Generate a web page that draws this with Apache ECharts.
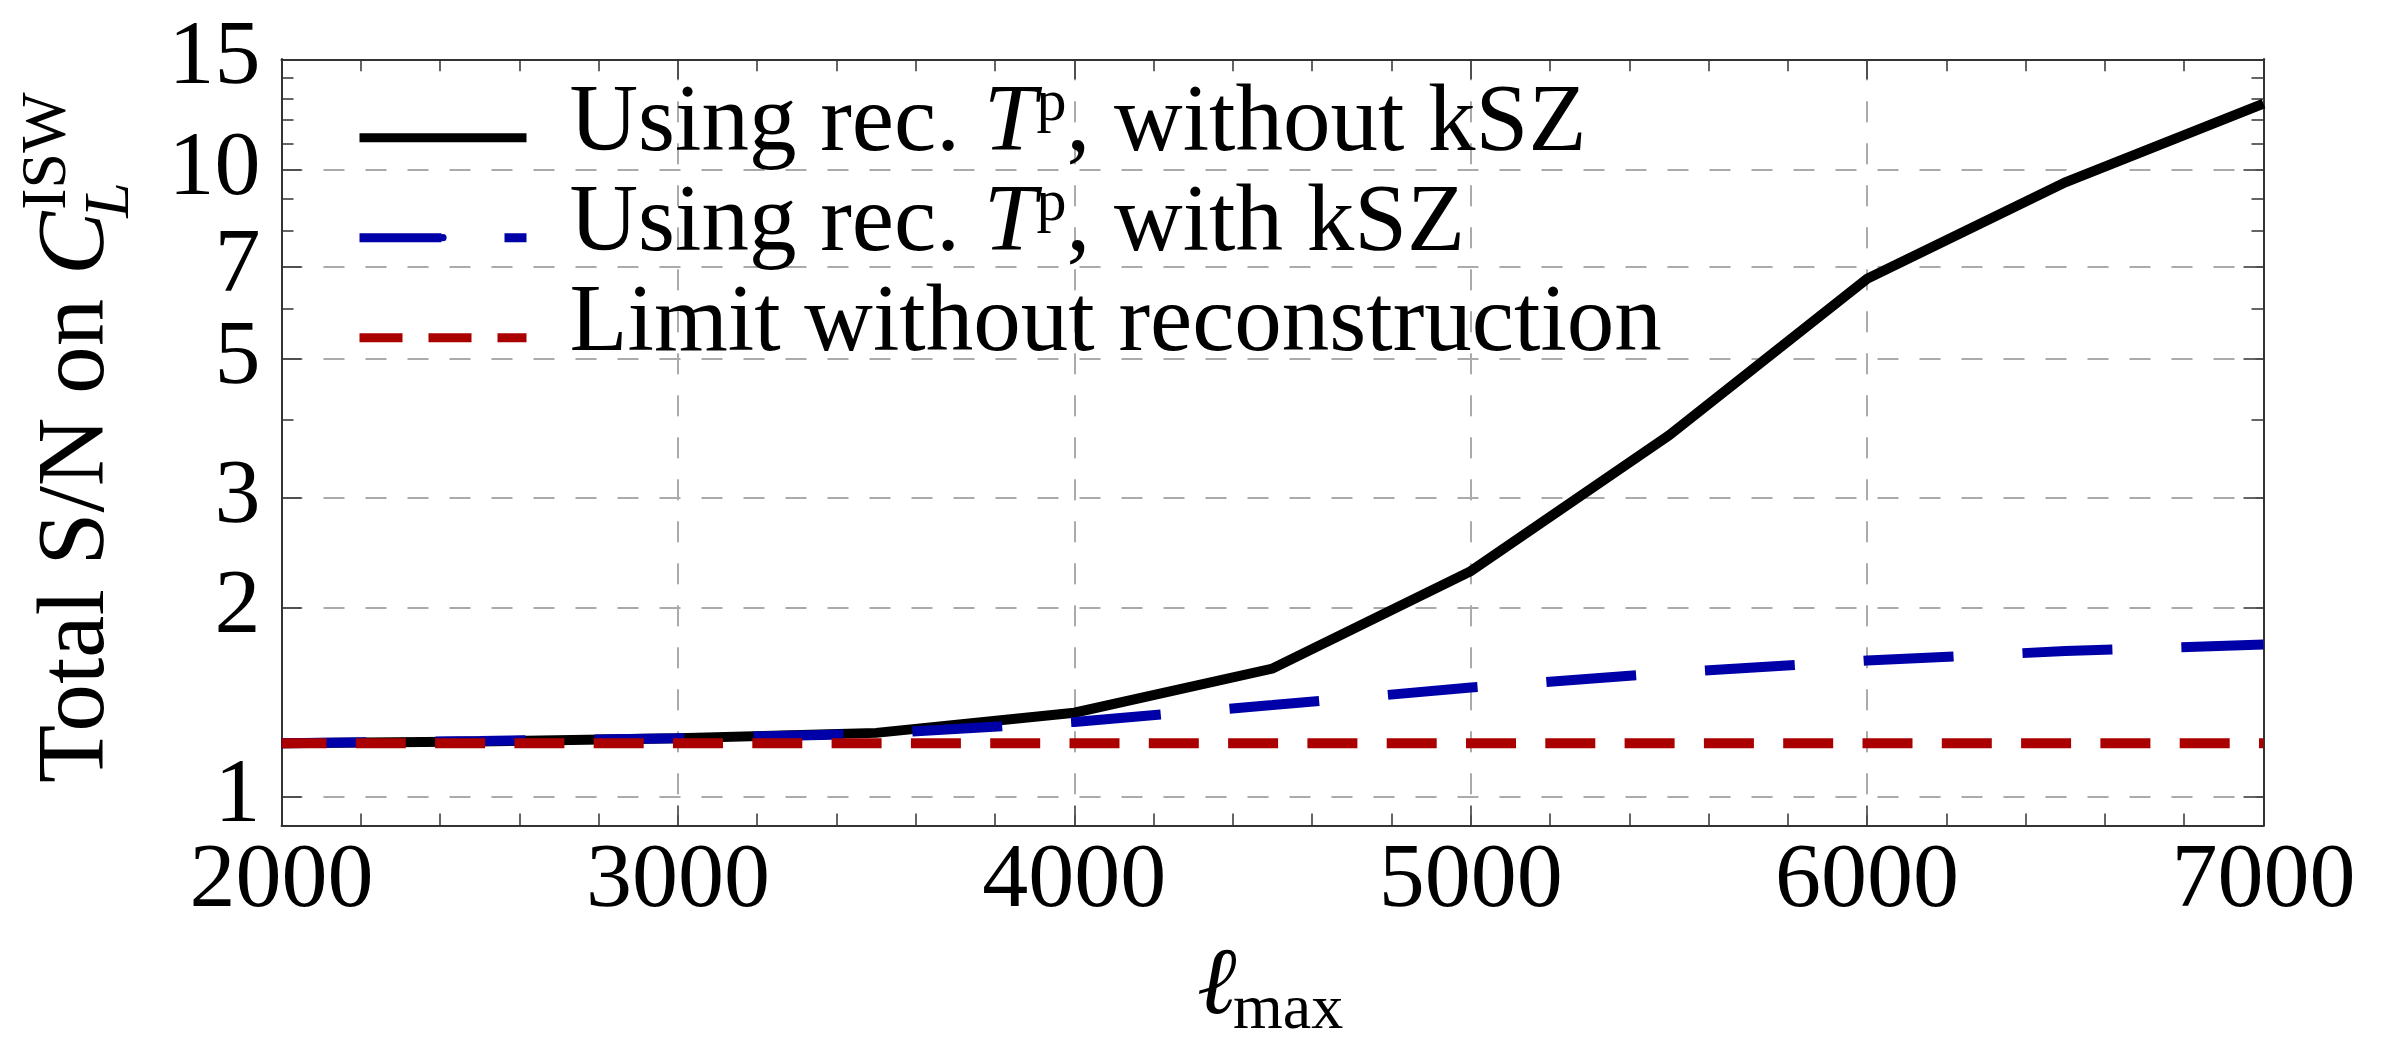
<!DOCTYPE html>
<html><head><meta charset="utf-8">
<script src="https://cdn.jsdelivr.net/npm/echarts@6/dist/echarts.min.js"></script>
<style>html,body{margin:0;padding:0;background:#fff;}#c{width:2383px;height:1037px;}</style>
</head><body><div id="c"></div>
<script>
// ---- data ----
const ellMax   = [2000, 2500, 3000, 3500, 4000, 4500, 5000, 5500, 6000, 6500, 7000];
const snNoKSZ  = [1.218, 1.226, 1.240, 1.265, 1.362, 1.602, 2.29, 3.77, 6.70, 9.55, 12.75];
const snKSZ    = [1.218, 1.228, 1.240, 1.261, 1.317, 1.401, 1.494, 1.577, 1.650, 1.708, 1.75];
const snLimit  = [1.218, 1.218, 1.218, 1.218, 1.218, 1.218, 1.218, 1.218, 1.218, 1.218, 1.218];
const seriesNames = ['Using rec. Tp, without kSZ', 'Using rec. Tp, with kSZ', 'Limit without reconstruction'];
const legendRich  = ['Using rec. {T|T}{p|p}, without kSZ', 'Using rec. {T|T}{p|p}, with kSZ', 'Limit without reconstruction'];
const xTickLabels = [2000, 3000, 4000, 5000, 6000, 7000];
const yLabelVals  = [1, 2, 3, 5, 7, 10, 15];
const yMajorVals  = [1, 2, 3, 5, 7, 10];
const yMinorVals  = [4, 6, 8, 9, 11, 12, 13, 14];

const F = '"Liberation Serif", "Times New Roman", serif';
const AX = '#333';
const GRID = { left: 281.5, right: 119.5, top: 59.3, bottom: 211.4 };

const ctx = document.createElement('canvas').getContext('2d');
function tw(t, fs, it) { ctx.font = (it ? 'italic ' : '') + fs + 'px "Liberation Serif"'; return ctx.measureText(t).width; }
const MID = 0.3375; // middle-baseline offset (em) above alphabetic baseline

const chart = echarts.init(document.getElementById('c'));

function xAx(pos, showLabel) {
  return {
    type: 'value', position: pos, min: 2000, max: 7000, interval: 1000,
    axisLine: { show: true, lineStyle: { color: AX, width: 2 } },
    axisTick: { show: true, inside: true, length: 20, lineStyle: { color: AX, width: 1.5 } },
    minorTick: { show: true, splitNumber: 5, length: 12, lineStyle: { color: AX, width: 1.5 } },
    axisLabel: { show: showLabel, customValues: xTickLabels, formatter: v => String(v), fontFamily: F, fontSize: 92, color: '#000', margin: 10 },
    splitLine: { show: showLabel, lineStyle: { color: '#aaa', width: 2, type: [21, 21] } },
    minorSplitLine: { show: false }
  };
}
function yAx(pos, vals, len, labels, split) {
  return {
    type: 'log', logBase: 10, position: pos, min: 0.9, max: 15,
    axisLine: { show: true, lineStyle: { color: AX, width: 2 } },
    axisTick: { show: true, inside: true, length: len, customValues: vals, lineStyle: { color: AX, width: 1.5 } },
    axisLabel: labels ? { show: true, customValues: yLabelVals, formatter: v => String(v), fontFamily: F, fontSize: 92, color: '#000', margin: 21, padding: [0, 0, 14, 0] } : { show: false },
    splitLine: { show: split, lineStyle: { color: '#aaa', width: 2, type: [21, 21] } },
    minorTick: { show: false }, minorSplitLine: { show: false }
  };
}

const wMain = tw('Total S/N on ', 95, false);
const wC = tw('C', 95, true);

const option = {
  animation: false,
  backgroundColor: '#fff',
  grid: GRID,
  xAxis: [xAx('bottom', true), xAx('top', false)],
  yAxis: [
    yAx('left', yMajorVals, 20, true, true),
    yAx('left', yMinorVals, 12, false, false),
    yAx('right', yMajorVals, 20, false, false),
    yAx('right', yMinorVals, 12, false, false)
  ],
  legend: {
    orient: 'vertical', left: 355, top: 74.7, padding: 0,
    itemWidth: 167, itemHeight: 9, itemGap: -26,
    data: [
      { name: seriesNames[0], lineStyle: { width: 9 } },
      { name: seriesNames[1], lineStyle: { width: 9, type: [82, 63], dashOffset: 0 } },
      { name: seriesNames[2], lineStyle: { width: 9, type: [43, 26], dashOffset: 0 } }
    ],
    formatter: n => legendRich[seriesNames.indexOf(n)],
    textStyle: {
      fontFamily: F, fontSize: 95, lineHeight: 100, color: '#000', padding: [0, 0, 26, 38],
      rich: {
        T: { fontFamily: F, fontSize: 95, fontStyle: 'italic', lineHeight: 100, color: '#000' },
        p: { fontFamily: F, fontSize: 60, lineHeight: 54, verticalAlign: 'top', color: '#000' }
      }
    }
  },
  series: [
    { name: seriesNames[0], type: 'line', symbol: 'none', data: ellMax.map((x, i) => [x, snNoKSZ[i]]),
      lineStyle: { color: '#000', width: 10, cap: 'butt', join: 'miter' }, itemStyle: { color: '#000' } },
    { name: seriesNames[1], type: 'line', symbol: 'none', data: ellMax.map((x, i) => [x, snKSZ[i]]),
      lineStyle: { color: '#0000a8', width: 10, type: [90, 69], dashOffset: 5, cap: 'butt' }, itemStyle: { color: '#0000a8' } },
    { name: seriesNames[2], type: 'line', symbol: 'none', data: ellMax.map((x, i) => [x, snLimit[i]]),
      lineStyle: { color: '#aa0000', width: 10, type: [50, 29.3], dashOffset: 5, cap: 'butt' }, itemStyle: { color: '#aa0000' } }
  ],
  graphic: [
    {
      type: 'group', x: 110, y: 783, rotation: Math.PI / 2, silent: true,
      children: [
        { type: 'text', style: { text: 'Total S/N on ', x: 0, y: -MID * 95, fontFamily: F, fontSize: 95, fill: '#000', align: 'left', verticalAlign: 'middle' } },
        { type: 'text', style: { text: 'C', x: wMain, y: -MID * 95, fontFamily: F, fontSize: 95, fontStyle: 'italic', fill: '#000', align: 'left', verticalAlign: 'middle' } },
        { type: 'text', style: { text: 'ISW', x: wMain + wC + 2, y: -40 - MID * 64, fontFamily: F, fontSize: 64, fill: '#000', align: 'left', verticalAlign: 'middle' } },
        { type: 'text', style: { text: 'L', x: wMain + wC - 6, y: 23 - MID * 64, fontFamily: F, fontSize: 64, fontStyle: 'italic', fill: '#000', align: 'left', verticalAlign: 'middle' } }
      ]
    },
    {
      type: 'group', x: 1197, y: 1020, silent: true,
      children: [
        { type: 'text', style: { text: '\u2113', x: 0, y: -MID * 95, fontFamily: F, fontSize: 95, fontStyle: 'italic', fill: '#000', align: 'left', verticalAlign: 'middle' } },
        { type: 'text', style: { text: 'max', x: 36, y: 13 - MID * 64, fontFamily: F, fontSize: 64, fill: '#000', align: 'left', verticalAlign: 'middle' } }
      ]
    }
  ]
};
chart.setOption(option);
</script></body></html>
